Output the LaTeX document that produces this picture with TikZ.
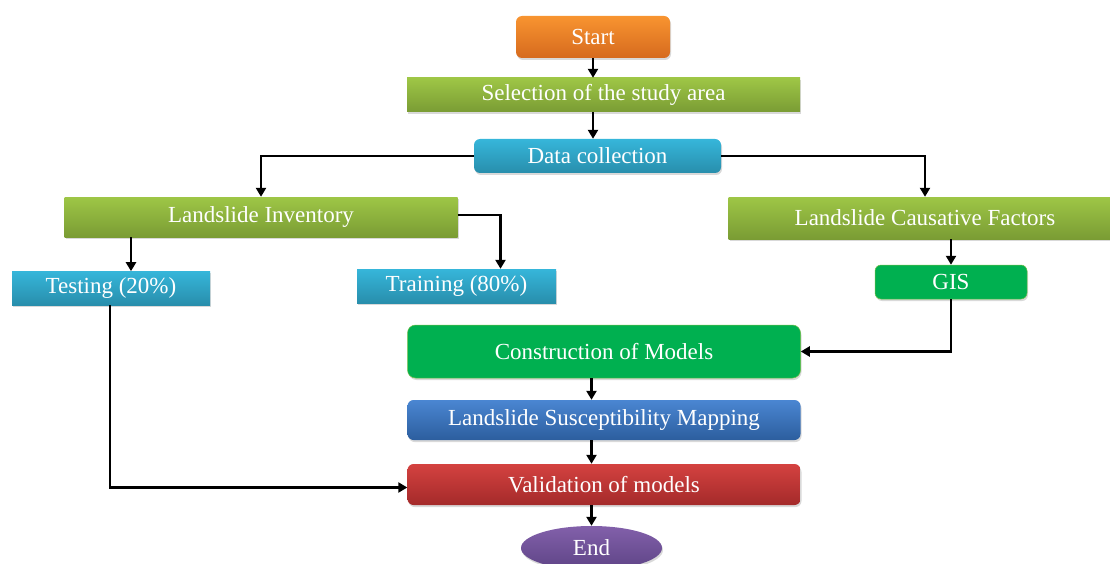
\documentclass[tikz,border=0pt]{standalone}
\usepackage{fontspec}
\setmainfont{Liberation Serif}
\usetikzlibrary{shapes.geometric, shadows, arrows.meta}

\definecolor{orangetop}{RGB}{248,148,48}
\definecolor{orangebot}{RGB}{214,106,30}
\definecolor{olivetop}{RGB}{158,198,70}
\definecolor{olivebot}{RGB}{122,156,52}
\definecolor{cyantop}{RGB}{54,182,218}
\definecolor{cyanbot}{RGB}{40,142,172}
\definecolor{gisgreen}{RGB}{0,176,80}
\definecolor{gisrim}{RGB}{110,190,70}
\definecolor{bluetop}{RGB}{74,134,210}
\definecolor{bluebot}{RGB}{44,94,158}
\definecolor{redtop}{RGB}{212,66,64}
\definecolor{redbot}{RGB}{164,42,42}
\definecolor{purpletop}{RGB}{130,96,170}
\definecolor{purplebot}{RGB}{94,68,134}

\begin{document}
\begin{tikzpicture}[x = 1pt, y = -1pt, font = \fontsize{23}{27}\selectfont,
        box/.style = {text = white, inner sep = 0pt,
            drop shadow = {opacity = 0.3, shadow xshift = 1pt, shadow yshift = -2pt}},
        wide/.style = {box, minimum width = 393pt, minimum height = #1},
        flow/.style = {draw, line width = 2.8pt, -{Triangle[length = 9pt, width = 10pt]}}]
        \clip (0, 0) rectangle (1110, 564);
        \node[box, rounded corners = 6pt, top color = orangetop, bottom color = orangebot,
            minimum width = 154pt, minimum height = 42pt] (0) at (593, 37) {Start};
        \node[wide = 34pt, top color = olivetop, bottom color = olivebot] (1) at (603.5, 95) {Selection of the study area};
        \node[box, rounded corners = 6pt, top color = cyantop, bottom color = cyanbot,
            minimum width = 247pt, minimum height = 34pt] (2) at (597.5, 156) {Data collection};
        \node[wide = 40pt, top color = olivetop, bottom color = olivebot] (3) at (261, 217) {Landslide Inventory};
        \node[wide = 42pt, top color = olivetop, bottom color = olivebot] (4) at (925, 218) {Landslide Causative Factors};
        \node[box, top color = cyantop, bottom color = cyanbot,
            minimum width = 198pt, minimum height = 34pt] (5) at (111, 288) {Testing (20\%)};
        \node[box, top color = cyantop, bottom color = cyanbot,
            minimum width = 199pt, minimum height = 34pt] (6) at (456.5, 286) {Training (80\%)};
        \node[box, rounded corners = 6pt, fill = gisgreen, draw = gisrim, line width = 0.5pt,
            minimum width = 152pt, minimum height = 34pt] (7) at (951, 282) {GIS};
        \node[wide = 53pt, rounded corners = 8pt, fill = gisgreen, draw = gisrim, line width = 0.5pt] (8) at (604, 351.5) {Construction of Models};
        \node[wide = 40pt, rounded corners = 6pt, top color = bluetop, bottom color = bluebot] (9) at (604, 420) {Landslide Susceptibility Mapping};
        \node[wide = 41pt, rounded corners = 6pt, top color = redtop, bottom color = redbot] (10) at (604, 484.5) {Validation of models};
        \node[box, ellipse, top color = purpletop, bottom color = purplebot,
            minimum width = 141pt, minimum height = 44pt] (11) at (591.5, 548) {End};

        \draw[flow] (0.south) -- (0.south |- 1.north);
        \draw[flow] (1.south -| 0) -- (2.north -| 0);
        \draw[flow] (2.west) -| (3.north);
        \draw[flow] (2.east) -| (4.north);
        \draw[flow] ([xshift = -130pt]3.south) -- ++(0, 34);
        \draw[flow] ([yshift = 2pt]3.east) -| ([xshift = 44pt]6.north);
        \draw[flow] (4.south -| 7) -- (7.north);
        \draw[flow] (7.south) |- (8.east);
        \draw[flow] (8.south -| 11) -- (9.north -| 11);
        \draw[flow] (9.south -| 11) -- (10.north -| 11);
        \draw[flow] (10.south -| 11) -- (11.north);
        \draw[flow] ([xshift = -1pt]5.south) |- ([yshift = -3pt]10.west);
    \end{tikzpicture}
\end{document}
